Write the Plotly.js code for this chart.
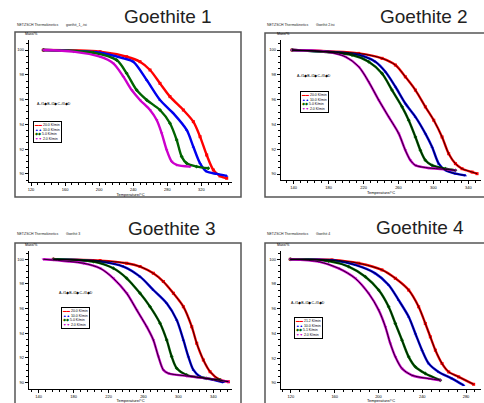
<!DOCTYPE html>
<html><head><meta charset="utf-8">
<script src="https://cdn.plot.ly/plotly-3.0.1.min.js"></script>
<style>body{margin:0;background:#fff}#c{width:484px;height:403px}</style>
</head><body><div id="c"></div>
<script>
// ---- data (Temperature °C, Mass %) ----
const panelTitles = ["Goethite 1","Goethite 2","Goethite 3","Goethite 4"];
const fileNames = ["goethit_1_.tsi","Goethit 2.tsi","Goethit 3","Goethit 4"];
const rateLabels1 = ["20.0 K/min","10.0 K/min","5.0 K/min","2.0 K/min"];
const rateLabels2 = ["20.0 K/min","10.0 K/min","5.0 K/min","2.0 K/min"];
const rateLabels3 = ["20.0 K/min","10.0 K/min","5.0 K/min","2.0 K/min"];
const rateLabels4 = ["21.2 K/min","10.0 K/min","5.1 K/min","2.0 K/min"];
const xTicks1 = [120,160,200,240,280,320];
const xTicks2 = [140,180,220,260,300,340];
const xTicks3 = [140,180,220,260,300,340];
const xTicks4 = [120,160,200,240,280];
const yTicks = [90,92,94,96,98,100];

// Goethite 1
const g1RedT = [134.5,201.0,232.3,247.9,259.7,271.4,283.1,298.8,310.5,318.4,326.2,334.0,341.8,349.7];
const g1RedM = [100,99.87,99.46,99.06,98.39,97.31,96.24,95.16,94.22,93.01,91.53,90.32,89.84,89.65];
const g1BlueT = [134.5,201,228.4,240.1,255.8,271.4,287.1,302.7,310.5,318.4,326.2,337.9,349.7];
const g1BlueM = [100,99.78,99.33,99.06,97.58,95.97,94.89,93.55,92.20,90.86,90.19,90.0,89.84];
const g1GreenT = [134.5,193.2,220.5,232.3,244.0,255.8,271.4,283.1,291.0,296.8,302.7,314.4,328.1];
const g1GreenM = [100,99.78,99.19,98.12,96.77,95.97,95.16,94.09,92.74,91.40,90.86,90.59,90.46];
const g1MagT = [134.5,169.7,201.0,216.6,228.4,238.2,247.9,259.7,267.5,273.4,279.2,285.1,291.0,306.6];
const g1MagM = [100,99.87,99.46,98.92,97.85,96.77,95.97,95.16,94.35,93.28,91.94,91.0,90.73,90.59];

// Goethite 2
const g2RedT = [138.1,214.5,241.2,256.5,267.9,279.4,290.8,300.4,309.9,317.5,325.2,332.8,344.3,350.0];
const g2RedM = [100,99.73,99.33,98.79,97.84,96.77,95.42,94.34,92.99,91.64,90.84,90.43,90.16,90.03];
const g2BlueT = [138.1,214.5,233.5,245.0,256.5,267.9,279.4,290.8,298.5,306.1,313.7,325.2,336.6];
const g2BlueM = [100,99.60,99.06,98.25,97.04,95.69,94.61,93.26,92.18,90.84,90.30,90.03,89.89];
const g2GreenT = [138.1,206.8,225.9,241.2,252.6,264.1,271.7,279.4,285.1,290.8,298.5,313.7,325.2];
const g2GreenM = [100,99.60,99.06,98.11,96.77,95.42,94.34,92.99,91.91,91.11,90.70,90.43,90.30];
const g2MagT = [138.1,176.3,199.2,214.5,225.9,237.4,248.8,260.3,267.9,273.6,279.4,294.6,309.9,325.2];
const g2MagM = [100,99.87,99.46,98.65,97.44,95.96,94.61,93.26,91.91,91.11,90.70,90.49,90.40,90.30];

// Goethite 3
const g3RedT = [156.8,210.3,240.8,256.1,271.3,282.8,294.3,305.7,315.3,321.0,328.6,336.3,347.7,357.3];
const g3RedM = [100,99.89,99.68,99.41,98.86,98.19,97.24,96.16,94.54,93.19,91.84,90.89,90.22,90.08];
const g3BlueT = [156.8,210.3,237.0,256.1,271.3,286.6,298.1,305.7,311.4,317.2,324.8,340.1,351.5];
const g3BlueM = [100,99.81,99.41,98.59,97.51,96.43,95.08,93.46,92.11,91.03,90.49,90.22,90.03];
const g3GreenT = [156.8,202.6,225.5,240.8,256.1,267.5,279.0,286.6,292.3,298.1,309.5,332.4,347.7];
const g3GreenM = [100,99.81,99.27,98.46,97.24,96.16,94.81,93.46,92.11,91.16,90.62,90.35,90.22];
const g3MagT = [145.3,191.2,210.3,225.5,240.8,252.3,263.7,271.3,277.1,282.8,288.5,309.5,340.1,357.3];
const g3MagM = [100,99.68,99.27,98.46,97.24,95.89,94.54,93.46,92.11,91.03,90.76,90.54,90.27,90.08];

// Goethite 4
const g4RedT = [119.4,157.5,181.9,203.2,215.4,227.6,236.7,242.8,247.4,252.0,258.1,264.2,273.3,287.0];
const g4RedM = [100,99.95,99.68,99.14,98.46,97.51,96.16,94.81,93.73,92.65,91.57,90.89,90.49,89.89];
const g4BlueT = [119.4,160.5,178.8,197.1,209.3,218.4,227.6,233.7,239.8,245.9,255.0,267.2,277.9];
const g4BlueM = [100,99.89,99.54,98.86,97.92,96.70,95.35,94.0,92.65,91.57,90.89,90.35,89.81];
const g4GreenT = [119.4,154.4,172.7,188.0,200.2,209.3,215.4,221.5,227.6,233.7,242.8,256.5];
const g4GreenM = [100,99.86,99.41,98.59,97.51,96.16,94.81,93.46,92.11,91.30,90.76,90.22];
const g4MagT = [119.4,145.3,163.6,178.8,191.0,200.2,206.3,210.8,215.4,221.5,230.6,245.9,256.5];
const g4MagM = [100,99.81,99.27,98.46,97.24,95.89,94.54,93.19,92.11,91.16,90.62,90.35,90.22];

// ---- styling ----
const colors = ["#ff0000","#0000ee","#006400","#cc00cc"];
const symbols = ["square","triangle-up","diamond","triangle-down"];
const legGlyphs = ["\u25AC\u25AC","\u25B2\u25B2","\u25C6\u25C6","\u25BC\u25BC"];
const FONT = "Liberation Sans, Arial, sans-serif";

const panels = [
  {series:[[g1RedT,g1RedM],[g1BlueT,g1BlueM],[g1GreenT,g1GreenM],[g1MagT,g1MagM]], labels:rateLabels1, ticks:xTicks1, fit:false},
  {series:[[g2RedT,g2RedM],[g2BlueT,g2BlueM],[g2GreenT,g2GreenM],[g2MagT,g2MagM]], labels:rateLabels2, ticks:xTicks2, fit:true},
  {series:[[g3RedT,g3RedM],[g3BlueT,g3BlueM],[g3GreenT,g3GreenM],[g3MagT,g3MagM]], labels:rateLabels3, ticks:xTicks3, fit:true},
  {series:[[g4RedT,g4RedM],[g4BlueT,g4BlueM],[g4GreenT,g4GreenM],[g4MagT,g4MagM]], labels:rateLabels4, ticks:xTicks4, fit:true}
];

// geometry (paper fractions)
const W=484, H=403;
const px = v => v/W, py = v => 1 - v/H;
const geo = [
  {xd:[px(29),px(232)], yd:[py(182),py(40)], xr:[117.65,355.9], yr:[89.35,100.81], frame:[15,32,241,197], hdr:[15,29], title:[168,17], eq:[35,104], leg:[33,121]},
  {xd:[px(281),px(481)], yd:[py(180),py(40)], xr:[125.45,354.5], yr:[89.52,100.81], frame:[265,33,490,197], hdr:[265,29], title:[424,17], eq:[295,76], leg:[300,91]},
  {xd:[px(29),px(232)], yd:[py(388.7),py(251)], xr:[128.9,361.4], yr:[89.51,100.67], frame:[15,243,241,410], hdr:[15,238], title:[172,228], eq:[57,293], leg:[61,307]},
  {xd:[px(281),px(481)], yd:[py(389),py(251)], xr:[110.9,293.7], yr:[89.51,100.67], frame:[265,243,490,410], hdr:[265,238], title:[420,227], eq:[289,303], leg:[294,317]}
];

const traces = [];
const layout = {
  width:W, height:H, margin:{l:0,r:0,t:0,b:0}, showlegend:false,
  paper_bgcolor:"#fff", plot_bgcolor:"rgba(0,0,0,0)",
  font:{family:FONT, size:4, color:"#000"},
  shapes:[], annotations:[]
};

panels.forEach((p,i)=>{
  const n = i+1, g = geo[i];
  const xa = "x"+(n===1?"":n), ya = "y"+(n===1?"":n);
  p.series.forEach((s,k)=>{
    traces.push({x:s[0], y:s[1], xaxis:xa, yaxis:ya, type:"scatter", mode:"lines+markers",
      line:{color:colors[k], width:2.4, shape:"spline", smoothing:0.8},
      marker:{symbol:symbols[k], size:3, color:colors[k]}, hoverinfo:"skip"});
  });
  if(p.fit){
    p.series.forEach((s,k)=>{
      traces.push({x:s[0], y:s[1], xaxis:xa, yaxis:ya, type:"scatter", mode:"lines",
        line:{color:"#000", width:0.8, shape:"spline", smoothing:0.8}, hoverinfo:"skip"});
    });
  }
  const axCommon = {showgrid:false, zeroline:false, showline:true, linecolor:"#000", linewidth:1.3,
    ticks:"outside", ticklen:3, tickwidth:1, tickcolor:"#000", tickfont:{size:4, family:FONT}, fixedrange:true};
  layout["xaxis"+(n===1?"":n)] = Object.assign({}, axCommon, {domain:g.xd, range:g.xr, anchor:"y"+(n===1?"":n),
    tickmode:"array", tickvals:p.ticks, ticktext:p.ticks.map(String),
    minor:{ticks:"outside", ticklen:1.5, dtick:8, tick0:p.ticks[0], tickcolor:"#000"},
    title:{text:"Temperature/°C", font:{size:4, family:FONT}, standoff:2}});
  layout["yaxis"+(n===1?"":n)] = Object.assign({}, axCommon, {domain:g.yd, range:g.yr, anchor:"x"+(n===1?"":n),
    tickmode:"array", tickvals:yTicks, ticktext:yTicks.map(String),
    minor:{ticks:"outside", ticklen:1.5, dtick:0.5, tick0:90, tickcolor:"#000"}});

  const f = g.frame;
  layout.shapes.push({type:"rect", xref:"paper", yref:"paper", x0:px(f[0]), x1:px(f[2]), y0:py(f[3]), y1:py(f[1]),
    line:{color:"#555", width:1.5}, fillcolor:"rgba(0,0,0,0)", layer:"below"});
  layout.annotations.push({xref:"paper", yref:"paper", x:px(g.title[0]), y:py(g.title[1]), text:panelTitles[i],
    showarrow:false, xanchor:"center", yanchor:"middle", font:{size:19, family:FONT, color:"#222"}});
  layout.annotations.push({xref:"paper", yref:"paper", x:px(g.hdr[0]), y:py(g.hdr[1]),
    text:"NETZSCH Thermokinetics&nbsp;&nbsp;&nbsp;&nbsp;&nbsp;&nbsp;&nbsp;&nbsp;"+fileNames[i],
    showarrow:false, xanchor:"left", yanchor:"bottom", font:{size:3.5, family:FONT, color:"#222"}});
  layout.annotations.push({xref:"paper", yref:"paper", x:g.xd[0]-0.012, y:g.yd[1]+0.004, text:"Mass/%",
    showarrow:false, xanchor:"left", yanchor:"bottom", font:{size:3.5, family:FONT}});
  layout.annotations.push({xref:"paper", yref:"paper", x:px(g.eq[0]), y:py(g.eq[1]), text:"A\u2013f1\u25C6B\u2013f2\u25C6C\u2013f3\u25C6D",
    showarrow:false, xanchor:"left", yanchor:"middle", font:{size:3.5, family:FONT}});
  const legText = p.labels.map((l,k)=>'<span style="color:'+colors[k]+'">'+legGlyphs[k]+'</span> '+l).join("<br>");
  layout.annotations.push({xref:"paper", yref:"paper", x:px(g.leg[0]), y:py(g.leg[1]), text:legText,
    showarrow:false, xanchor:"left", yanchor:"top", align:"left", bordercolor:"#000", borderwidth:1, borderpad:1,
    bgcolor:"#fff", font:{size:3.5, family:FONT}});
});

Plotly.newPlot("c", traces, layout, {staticPlot:true, displayModeBar:false});
</script></body></html>
